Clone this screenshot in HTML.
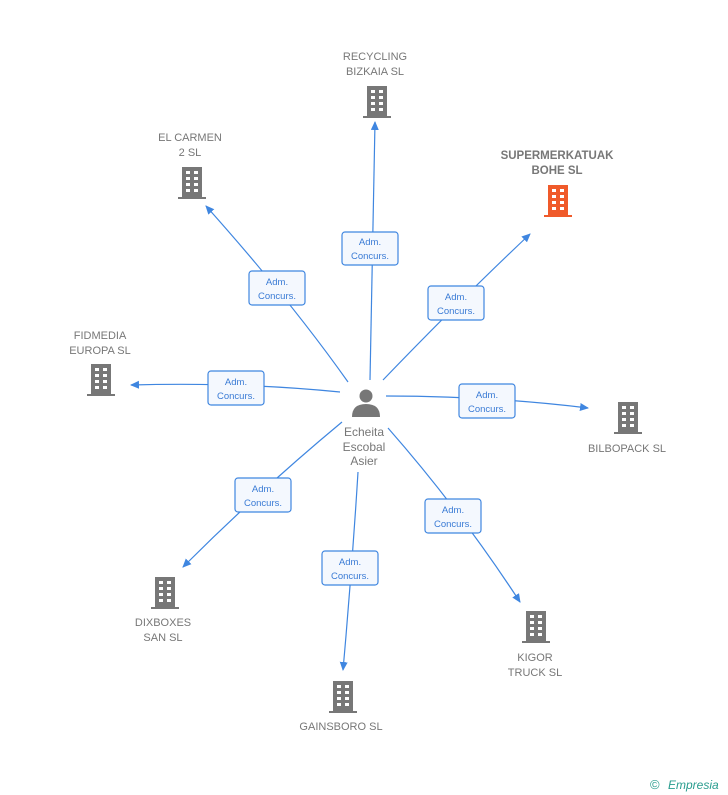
<!DOCTYPE html>
<html><head><meta charset="utf-8"><style>
html,body{margin:0;padding:0;background:#fff;}
svg{display:block;font-family:"Liberation Sans",sans-serif;}
.t{font-size:11px;fill:#777;text-anchor:middle;}
.bl{font-size:9.5px;fill:#3a7bd5;text-anchor:middle;}
.ln{stroke:#3f86e0;stroke-width:1.2;fill:none;}
.box{fill:#f4f8fe;stroke:#3f86e0;stroke-width:1.2;}
</style></head><body>
<svg width="728" height="795" viewBox="0 0 728 795">
<defs>
<marker id="a" markerWidth="10" markerHeight="10" refX="8" refY="4" orient="auto" markerUnits="userSpaceOnUse"><path d="M0,0 L9,4 L0,8 z" fill="#3f86e0"/></marker>
<g id="b">
<rect x="-10" y="-16" width="20" height="31"/>
<rect x="-14" y="14" width="28" height="2"/>
<g fill="#fff">
<rect x="-6" y="-12" width="4" height="3"/><rect x="2" y="-12" width="4" height="3"/>
<rect x="-6" y="-6" width="4" height="3"/><rect x="2" y="-6" width="4" height="3"/>
<rect x="-6" y="0" width="4" height="3"/><rect x="2" y="0" width="4" height="3"/>
<rect x="-6" y="6" width="4" height="3"/><rect x="2" y="6" width="4" height="3"/>
</g></g>
</defs>
<g class="ln" marker-end="url(#a)">
<path d="M370,380 Q372,250 375,122"/>
<path d="M348,382 Q290,300 206,206"/>
<path d="M383,380 Q460,300 530,234"/>
<path d="M340,392 Q240,382 131,385"/>
<path d="M386,396 Q490,396 588,408"/>
<path d="M342,422 Q260,490 183,567"/>
<path d="M358,472 Q352,570 343,670"/>
<path d="M388,428 Q460,510 520,602"/>
</g>
<g>
<rect class="box" x="342" y="232" width="56" height="33" rx="3"/><text class="bl" x="370" y="245">Adm.</text><text class="bl" x="370" y="259">Concurs.</text>
<rect class="box" x="249" y="271" width="56" height="34" rx="3"/><text class="bl" x="277" y="285">Adm.</text><text class="bl" x="277" y="299">Concurs.</text>
<rect class="box" x="428" y="286" width="56" height="34" rx="3"/><text class="bl" x="456" y="300">Adm.</text><text class="bl" x="456" y="314">Concurs.</text>
<rect class="box" x="208" y="371" width="56" height="34" rx="3"/><text class="bl" x="236" y="385">Adm.</text><text class="bl" x="236" y="399">Concurs.</text>
<rect class="box" x="459" y="384" width="56" height="34" rx="3"/><text class="bl" x="487" y="398">Adm.</text><text class="bl" x="487" y="412">Concurs.</text>
<rect class="box" x="235" y="478" width="56" height="34" rx="3"/><text class="bl" x="263" y="492">Adm.</text><text class="bl" x="263" y="506">Concurs.</text>
<rect class="box" x="322" y="551" width="56" height="34" rx="3"/><text class="bl" x="350" y="565">Adm.</text><text class="bl" x="350" y="579">Concurs.</text>
<rect class="box" x="425" y="499" width="56" height="34" rx="3"/><text class="bl" x="453" y="513">Adm.</text><text class="bl" x="453" y="527">Concurs.</text>
</g>
<g fill="#777">
<use href="#b" x="377" y="102"/>
<use href="#b" x="192" y="183"/>
<use href="#b" x="101" y="380"/>
<use href="#b" x="628" y="418"/>
<use href="#b" x="165" y="593"/>
<use href="#b" x="343" y="697"/>
<use href="#b" x="536" y="627"/>
</g>
<use href="#b" x="558" y="201" fill="#f05a2a"/>
<g fill="#777">
<circle cx="366" cy="396" r="6.5"/>
<path d="M352,417 Q352,404 366,404 Q380,404 380,417 z"/>
</g>
<text class="t" x="375" y="60">RECYCLING</text><text class="t" x="375" y="75">BIZKAIA SL</text>
<text class="t" x="190" y="141">EL CARMEN</text><text class="t" x="190" y="156">2 SL</text>
<text class="t" x="557" y="159" style="fill:#777;font-weight:bold;font-size:11.5px">SUPERMERKATUAK</text><text class="t" x="557" y="174" style="font-weight:bold;font-size:11.5px">BOHE SL</text>
<text class="t" x="100" y="339">FIDMEDIA</text><text class="t" x="100" y="354">EUROPA SL</text>
<text class="t" x="627" y="452">BILBOPACK SL</text>
<text class="t" x="163" y="626">DIXBOXES</text><text class="t" x="163" y="641">SAN SL</text>
<text class="t" x="341" y="730">GAINSBORO SL</text>
<text class="t" x="535" y="661">KIGOR</text><text class="t" x="535" y="676">TRUCK SL</text>
<text class="t" x="364" y="436" style="font-size:12px">Echeita</text>
<text class="t" x="364" y="451" style="font-size:12px">Escobal</text>
<text class="t" x="364" y="465" style="font-size:12px">Asier</text>
<text x="650" y="789" style="font-size:13px;fill:#2a9d8f">©</text>
<text x="668" y="789" style="font-size:12px;fill:#2a9d8f;font-style:italic">Empresia</text>
</svg>
</body></html>
